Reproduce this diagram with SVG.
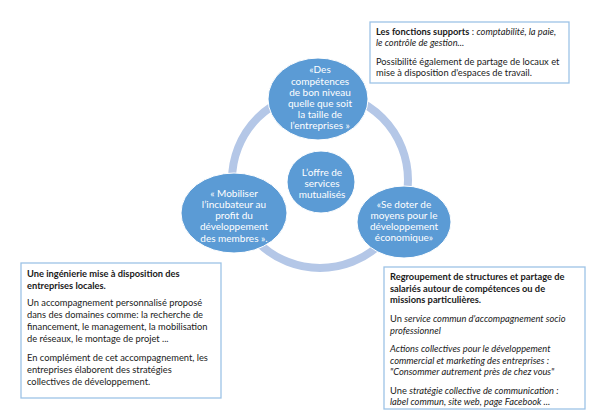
<svg xmlns="http://www.w3.org/2000/svg" width="600" height="416" viewBox="0 0 600 416">
<style>
.bx{fill:#ffffff;stroke:#9dc3e6;stroke-width:1.3}
.t{font-family:Lato,"Open Sans",sans-serif;font-size:9.3px;fill:#1a1a1a}
.b{font-weight:bold}
.i{font-style:italic}
.c{fill:#5b9bd5;stroke:#ffffff;stroke-width:1}
.ct{font-family:Lato,"Open Sans",sans-serif;font-size:10px;fill:#ffffff;text-anchor:middle}
</style>
<rect width="600" height="416" fill="#ffffff"/>
<g id="connectors">
<circle cx="320" cy="180" r="88" fill="none" stroke="#b4c7e7" stroke-width="8"/>
</g>
<g id="top">
<ellipse class="c" cx="318" cy="99" rx="50" ry="41"/>
<text class="ct" x="320" y="73">«Des</text>
<text class="ct" x="320" y="84.5">compétences</text>
<text class="ct" x="320" y="95.5">de bon niveau</text>
<text class="ct" x="320" y="106.5">quelle que soit</text>
<text class="ct" x="320" y="117.5">la taille de</text>
<text class="ct" x="320" y="129">l’entreprises »</text>
</g>
<g id="center">
<ellipse class="c" cx="321" cy="182" rx="34" ry="31"/>
<text class="ct" x="322" y="176">L’offre de</text>
<text class="ct" x="322" y="187">services</text>
<text class="ct" x="322" y="198">mutualisés</text>
</g>
<g id="left">
<ellipse class="c" cx="234" cy="213" rx="53" ry="40"/>
<text class="ct" x="234" y="196.5">« Mobiliser</text>
<text class="ct" x="234" y="208">l’incubateur au</text>
<text class="ct" x="234" y="219">profit du</text>
<text class="ct" x="234" y="230">développement</text>
<text class="ct" x="234" y="241.5">des membres ».</text>
</g>
<g id="right">
<ellipse class="c" cx="404" cy="222" rx="47" ry="36"/>
<text class="ct" x="404" y="207.5">«Se doter de</text>
<text class="ct" x="404" y="218.5">moyens pour le</text>
<text class="ct" x="404" y="230">développement</text>
<text class="ct" x="404" y="240.5">économique»</text>
</g>
<g id="box-top">
<rect class="bx" x="370" y="22" width="199" height="61"/>
<text class="t" x="376" y="35"><tspan class="b">Les fonctions supports</tspan> : <tspan class="i">comptabilité, la paie,</tspan></text>
<text class="t i" x="376" y="46">le contrôle de gestion...</text>
<text class="t" x="376" y="64.5">Possibilité également de partage de locaux et</text>
<text class="t" x="376" y="75.5">mise à disposition d'espaces de travail.</text>
</g>
<g id="box-left">
<rect class="bx" x="21" y="263" width="200" height="135"/>
<text class="t b" x="27" y="277">Une ingénierie mise à disposition des</text>
<text class="t b" x="27" y="289">entreprises locales.</text>
<text class="t" x="27" y="306">Un accompagnement personnalisé proposé</text>
<text class="t" x="27" y="318">dans des domaines comme: la recherche de</text>
<text class="t" x="27" y="330">financement, le management, la mobilisation</text>
<text class="t" x="27" y="342">de réseaux, le montage de projet ...</text>
<text class="t" x="27" y="361">En complément de cet accompagnement, les</text>
<text class="t" x="27" y="373">entreprises élaborent des stratégies</text>
<text class="t" x="27" y="385">collectives de développement.</text>
</g>
<g id="box-right">
<rect class="bx" x="384" y="267" width="201" height="142"/>
<text class="t b" x="390" y="280">Regroupement de structures et partage de</text>
<text class="t b" x="390" y="291.5">salariés autour de compétences ou de</text>
<text class="t b" x="390" y="302.5">missions particulières.</text>
<text class="t" x="390" y="322">Un <tspan class="i">service commun d'accompagnement socio</tspan></text>
<text class="t i" x="390" y="334">professionnel</text>
<text class="t i" x="390" y="352">Actions collectives pour le développement</text>
<text class="t i" x="390" y="364">commercial et marketing des entreprises :</text>
<text class="t i" x="390" y="375">"Consommer autrement près de chez vous"</text>
<text class="t" x="390" y="394">Une <tspan class="i">stratégie collective de communication :</tspan></text>
<text class="t i" x="390" y="405">label commun, site web, page Facebook ...</text>
</g>
</svg>
